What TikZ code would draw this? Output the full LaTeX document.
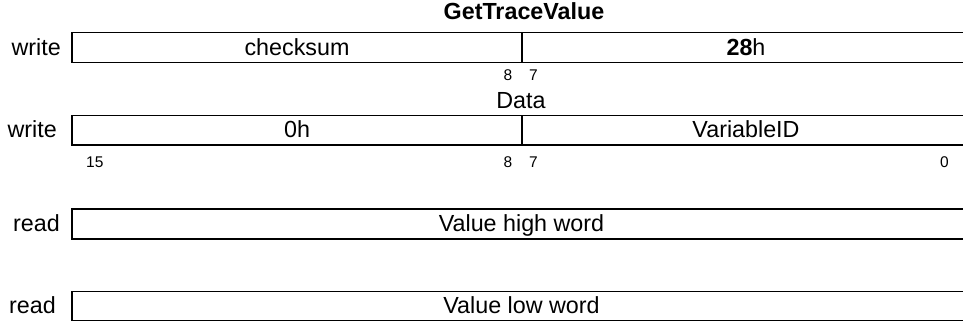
\documentclass[tikz,border=0pt]{standalone}
\usepackage{fontspec}
\setmainfont{Liberation Sans}
\begin{document}
\begin{tikzpicture}[x=1pt,y=-1pt,
  box/.style={draw,line width=1.6pt},
  lbl/.style={font=\fontsize{23.3}{28}\selectfont, inner sep=0pt},
  bit/.style={font=\fontsize{15.5}{18}\selectfont, inner sep=0pt}]
\useasboundingbox (0,0) rectangle (963,321);
% title
\node[lbl,anchor=base] (title) at (524,19.5) {\bfseries GetTraceValue};
% row 1
\coordinate (r1a) at (72,32.5);
\coordinate (r1b) at (971,62.5);
\coordinate (s1t) at (521.7,32.5);
\coordinate (s1b) at (521.7,62.5);
\draw[box] (r1a) rectangle (r1b);
\draw[box] (s1t) -- (s1b);
\node[lbl,anchor=base east] (w1) at (61,55.3) {write};
\node[lbl,anchor=base] (cs) at (297,55.3) {checksum};
\node[lbl,anchor=base] (h28) at (746,55.3) {\textbf{28}h};
\node[bit,anchor=base east] (b8a) at (512.5,81) {8};
\node[bit,anchor=base west] (b7a) at (529,81) {7};
% Data label
\node[lbl,anchor=base] (data) at (521,108.5) {Data};
% row 2
\coordinate (r2a) at (72,115.5);
\coordinate (r2b) at (971,145);
\coordinate (s2t) at (521.7,115.5);
\coordinate (s2b) at (521.7,145);
\draw[box] (r2a) rectangle (r2b);
\draw[box] (s2t) -- (s2b);
\node[lbl,anchor=base east] (w2) at (57,137.3) {write};
\node[lbl,anchor=base] (zh) at (297,137.3) {0h};
\node[lbl,anchor=base] (vid) at (746,137.3) {VariableID};
\node[bit,anchor=base west] (b15) at (86,167) {15};
\node[bit,anchor=base east] (b8b) at (512.5,167) {8};
\node[bit,anchor=base west] (b7b) at (529,167) {7};
\node[bit,anchor=base east] (b0) at (949,167) {0};
% row 3
\coordinate (r3a) at (72,209);
\coordinate (r3b) at (971,239);
\draw[box] (r3a) rectangle (r3b);
\node[lbl,anchor=base east] (rd1) at (60,231.8) {read};
\node[lbl,anchor=base] (vhw) at (521.5,231.8) {Value high word};
% row 4
\coordinate (r4a) at (72,291.5);
\coordinate (r4b) at (971,320.3);
\draw[box] (r4a) rectangle (r4b);
\node[lbl,anchor=base east] (rd2) at (56,313.8) {read};
\node[lbl,anchor=base] (vlw) at (521.5,313.8) {Value low word};
\end{tikzpicture}
\end{document}
